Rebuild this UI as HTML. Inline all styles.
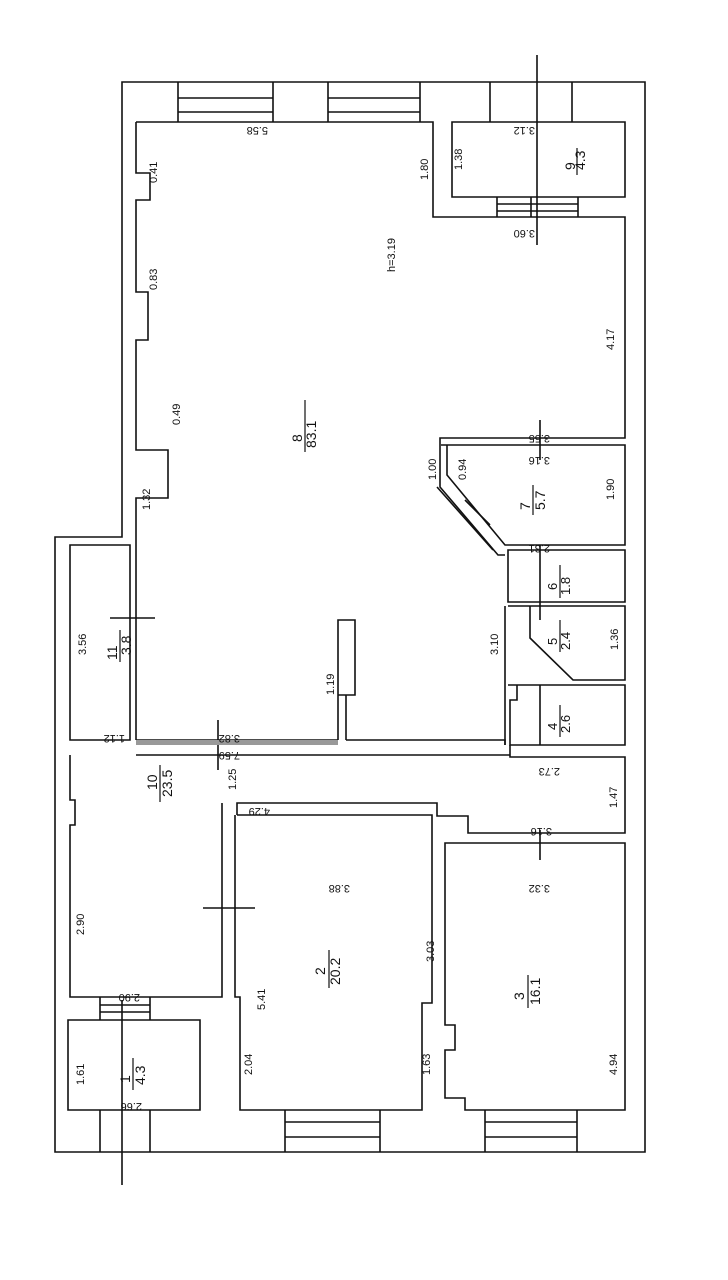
<!DOCTYPE html>
<html><head><meta charset="utf-8"><style>
body{margin:0;background:#fff}
svg{display:block}
text{font-family:"Liberation Sans",sans-serif;font-size:11px;fill:#111}
</style></head><body>
<svg width="728" height="1280" viewBox="0 0 728 1280" xmlns="http://www.w3.org/2000/svg">
<g fill="none" stroke="#111" stroke-width="1.6">
<path d="M122 82 H645 V1152 H55 V537 H122 Z"/>
<path d="M178 82 V122 M273 82 V122 M328 82 V122 M420 82 V122 M178 98 H273 M178 112 H273 M328 98 H420 M328 112 H420 M490 82 V122 M572 82 V122"/>
<path d="M136 122 H433 V217 H625 V438 H440 V487 L498 555 H505"/>
<path d="M136 122 V173 H150 V200 H136 V292 H148 V340 H136 V450 H168 V498 H136 V537 V740"/>
<path d="M452 122 H625 V197 H452 Z M497 197 V217 M578 197 V217 M497 204 H578 M497 211 H578 M531 197 V217"/>
<path d="M441 445 H625 V545 H505 L447 475 V445"/>
<path d="M493 550 L437 487"/>
<path d="M508 550 H625 V602 H508 Z M508 606 H625 V680 H573 L530 638 V606"/>
<path d="M505 606 V745 M508 685 H625 V745 H510 V700 H517 V685"/>
<path d="M70 545 H130 V740 H70 Z M130 545 V740"/>
<path d="M136 740 H338 M136 755 H510 M338 740 V695 M346 740 V695 M338 620 H355 V695 H338 Z M346 740 H505 V745 M505 755 H510"/>
<path d="M510 745 V757 H625 V833 H468 V816 H437 V803 H237 V815"/>
<path d="M70 755 V800 H75 V825 H70 V997 H222 V803 M222 997 V815"/>
<path d="M100 997 V1020 M150 997 V1020 M100 1005 H150 M100 1012 H150 M68 1020 H200 V1110 H68 Z M100 1110 V1152 M150 1110 V1152"/>
<path d="M237 815 H432 V1003 H422 V1110 H240 V997 H235 V815"/>
<path d="M285 1110 V1152 M380 1110 V1152 M285 1122 H380 M285 1137 H380"/>
<path d="M445 843 H625 V1110 H465 V1098 H445 V1050 H455 V1025 H445 Z"/>
<path d="M485 1110 V1152 M577 1110 V1152 M485 1122 H577 M485 1137 H577"/>
<path d="M537 55 V245 M540 420 V460 M465 500 L490 525 M110 618 H155 M218 720 V770 M540 830 V860 M203 908 H255 M122 1000 V1185 M540 545 V620 M540 685 V745"/>
</g>
<g stroke="#111" stroke-width="1.2">
<path d="M305 400 V452 M577 148 V175 M533 485 V515 M120 630 V662 M160 765 V802 M329 950 V988 M528 975 V1008 M133 1058 V1090 M560 565 V598 M560 620 V652 M560 705 V737"/>
</g>
<rect x="136" y="740" width="202" height="5" fill="#999"/>
<g>
<text transform="translate(268,127) rotate(180)">5.58</text>
<text transform="translate(535,127) rotate(180)">3.12</text>
<text transform="translate(535,230) rotate(180)">3.60</text>
<text transform="translate(395,272) rotate(-90)">h=3.19</text>
<text transform="translate(428,180) rotate(-90)">1.80</text>
<text transform="translate(462,170) rotate(-90)">1.38</text>
<text transform="translate(614,350) rotate(-90)">4.17</text>
<text transform="translate(614,500) rotate(-90)">1.90</text>
<text transform="translate(436,480) rotate(-90)">1.00</text>
<text transform="translate(466,480) rotate(-90)">0.94</text>
<text transform="translate(157,183) rotate(-90)">0.41</text>
<text transform="translate(157,290) rotate(-90)">0.83</text>
<text transform="translate(180,425) rotate(-90)">0.49</text>
<text transform="translate(150,510) rotate(-90)">1.32</text>
<text transform="translate(550,435) rotate(180)">3.55</text>
<text transform="translate(550,457) rotate(180)">3.16</text>
<text transform="translate(550,545) rotate(180)">2.31</text>
<text transform="translate(86,655) rotate(-90)">3.56</text>
<text transform="translate(125,735) rotate(180)">1.12</text>
<text transform="translate(240,735) rotate(180)">3.82</text>
<text transform="translate(240,752) rotate(180)">7.59</text>
<text transform="translate(334,695) rotate(-90)">1.19</text>
<text transform="translate(498,655) rotate(-90)">3.10</text>
<text transform="translate(618,650) rotate(-90)">1.36</text>
<text transform="translate(236,790) rotate(-90)">1.25</text>
<text transform="translate(617,808) rotate(-90)">1.47</text>
<text transform="translate(560,768) rotate(180)">2.73</text>
<text transform="translate(270,808) rotate(180)">4.29</text>
<text transform="translate(350,885) rotate(180)">3.88</text>
<text transform="translate(550,885) rotate(180)">3.32</text>
<text transform="translate(552,828) rotate(180)">3.16</text>
<text transform="translate(84,935) rotate(-90)">2.90</text>
<text transform="translate(140,994) rotate(180)">2.90</text>
<text transform="translate(265,1010) rotate(-90)">5.41</text>
<text transform="translate(434,962) rotate(-90)">3.03</text>
<text transform="translate(617,1075) rotate(-90)">4.94</text>
<text transform="translate(252,1075) rotate(-90)">2.04</text>
<text transform="translate(430,1075) rotate(-90)">1.63</text>
<text transform="translate(84,1085) rotate(-90)">1.61</text>
<text transform="translate(142,1103) rotate(180)">2.66</text>
<text transform="translate(302,442) rotate(-90)" style="font-size:14px">8</text>
<text transform="translate(316,448) rotate(-90)" style="font-size:14px">83.1</text>
<text transform="translate(575,170) rotate(-90)" style="font-size:14px">9</text>
<text transform="translate(585,170) rotate(-90)" style="font-size:14px">4.3</text>
<text transform="translate(530,510) rotate(-90)" style="font-size:14px">7</text>
<text transform="translate(545,510) rotate(-90)" style="font-size:14px">5.7</text>
<text transform="translate(117,660) rotate(-90)" style="font-size:14px">11</text>
<text transform="translate(131,655) rotate(-90)" style="font-size:14px">3.8</text>
<text transform="translate(157,790) rotate(-90)" style="font-size:14px">10</text>
<text transform="translate(172,797) rotate(-90)" style="font-size:14px">23.5</text>
<text transform="translate(325,975) rotate(-90)" style="font-size:14px">2</text>
<text transform="translate(340,985) rotate(-90)" style="font-size:14px">20.2</text>
<text transform="translate(524,1000) rotate(-90)" style="font-size:14px">3</text>
<text transform="translate(540,1005) rotate(-90)" style="font-size:14px">16.1</text>
<text transform="translate(130,1083) rotate(-90)" style="font-size:14px">1</text>
<text transform="translate(145,1085) rotate(-90)" style="font-size:14px">4.3</text>
<text transform="translate(557,590) rotate(-90)" style="font-size:13px">6</text>
<text transform="translate(570,595) rotate(-90)" style="font-size:13px">1.8</text>
<text transform="translate(557,645) rotate(-90)" style="font-size:13px">5</text>
<text transform="translate(570,650) rotate(-90)" style="font-size:13px">2.4</text>
<text transform="translate(557,730) rotate(-90)" style="font-size:13px">4</text>
<text transform="translate(570,733) rotate(-90)" style="font-size:13px">2.6</text>
</g>
</svg>
</body></html>
